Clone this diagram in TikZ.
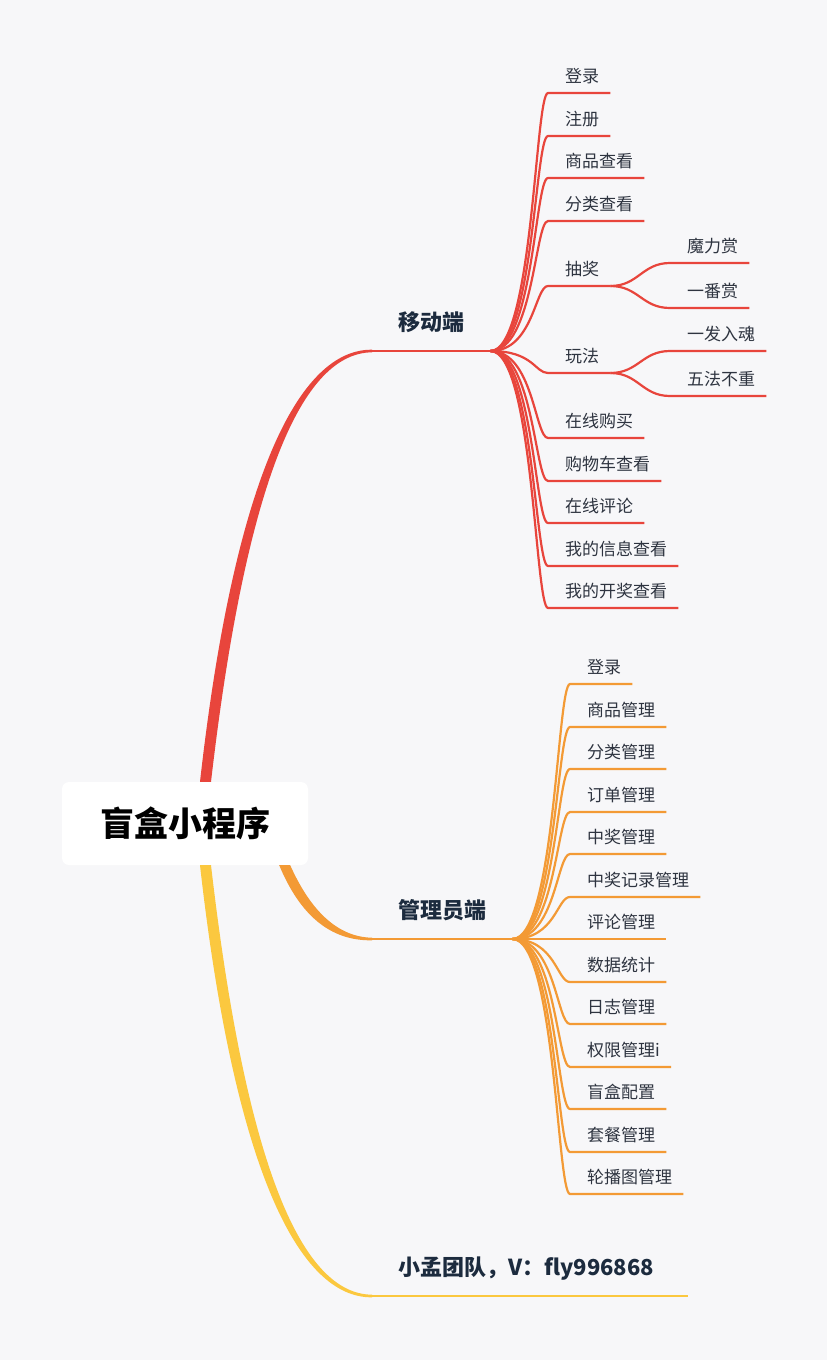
\documentclass[tikz,border=0pt]{standalone}
\usepackage{fontspec}
\setmainfont{Noto Sans CJK SC}
\usepackage{xcolor}
\usetikzlibrary{positioning, calc}

\definecolor{cBg}{HTML}{F7F7F9}
\definecolor{cRed}{HTML}{E8453C}
\definecolor{cOrange}{HTML}{F39A35}
\definecolor{cYellow}{HTML}{FBC83F}
\definecolor{cNavy}{HTML}{1C2B3E}
\definecolor{cText}{HTML}{2E3440}

\begin{document}
\begin{tikzpicture}[
  x=1pt, y=-1pt,
  root/.style={fill=white, rounded corners=7pt, minimum width=246pt,
    minimum height=83pt, inner sep=0pt, text=black,
    font=\fontsize{34}{40}\selectfont\bfseries},
  branch/.style={anchor=south west, inner xsep=26pt, inner ysep=20.6pt,
    text depth=0pt, text=cNavy, font=\fontsize{22}{26}\selectfont\bfseries},
  leaf/.style={anchor=south west, inner xsep=11pt, inner ysep=10.5pt,
    text depth=0pt, text=cText, font=\fontsize{17}{20}\selectfont,
    execute at begin node={\hspace*{6pt}}},
  rline/.style={cRed, line width=2.2pt},
  oline/.style={cOrange, line width=2.2pt},
]
  % background
  \fill[cBg] (0,0) rectangle (827,1360);

  % root and main branches
  \node[root] (root) at (185,823.5) {盲盒小程序};
  \node[branch] (mob) at (372,351) {移动端};
  \node[branch] (adm) at (372,939) {管理员端};
  \node[branch] (team) at (372,1296) {小孟团队，V：fly996868};

  \fill[cRed] ([xshift=15]root.north) .. controls (234,480) and (298,349) ..
    ([yshift=1.3]mob.south west) -- ([yshift=-1.3]mob.south west)
    .. controls (302,353) and (246,480) .. ([xshift=26]root.north) -- cycle;
  \fill[cOrange] ([xshift=-29]root.south east) .. controls (300,915) and (330,941) ..
    ([yshift=-1.3]adm.south west) -- ([yshift=1.3]adm.south west)
    .. controls (334,937) and (308,905) .. ([xshift=-18]root.south east) -- cycle;
  \fill[cYellow] ([xshift=15]root.south) .. controls (234,1167) and (298,1298) ..
    ([yshift=-1.3]team.south west) -- ([yshift=1.3]team.south west)
    .. controls (302,1294) and (246,1167) .. ([xshift=26]root.south) -- cycle;

  \draw[rline, line width=2.6pt] (mob.south west) -- (mob.south east);
  \draw[oline, line width=2.6pt] (adm.south west) -- (adm.south east);
  \draw[cYellow, line width=2.6pt] (team.south west) -- ([xshift=8]team.south east);

  % mobile side
  \node[leaf] (m1) at (548,93) {登录};
  \node[leaf] (m2) at (548,136) {注册};
  \node[leaf] (m3) at (548,178) {商品查看};
  \node[leaf] (m4) at (548,221) {分类查看};
  \node[leaf] (m5) at (548,286) {抽奖};
  \node[leaf] (m6) at (548,373) {玩法};
  \node[leaf] (m7) at (548,438) {在线购买};
  \node[leaf] (m8) at (548,481) {购物车查看};
  \node[leaf] (m9) at (548,523) {在线评论};
  \node[leaf] (m10) at (548,566) {我的信息查看};
  \node[leaf] (m11) at (548,608) {我的开奖查看};

  \node[leaf] (m5a) at (670,263) {魔力赏};
  \node[leaf] (m5b) at (670,308) {一番赏};
  \node[leaf] (m6a) at (670,351) {一发入魂};
  \node[leaf] (m6b) at (670,396) {五法不重};

  \foreach \n in {m1,m2,m3,m4,m5,m6,m7,m8,m9,m10,m11}
    \draw[rline] (mob.south east) .. controls +(43,0) and +(-13,0) ..
      (\n.south west) -- (\n.south east);
  \foreach \p/\n in {m5/m5a, m5/m5b, m6/m6a, m6/m6b}
    \draw[rline] (\p.south east) .. controls +(28,0) and +(-28,0) ..
      (\n.south west) -- (\n.south east);

  % admin side
  \node[leaf] (a1) at (570,684) {登录};
  \node[leaf] (a2) at (570,727) {商品管理};
  \node[leaf] (a3) at (570,769) {分类管理};
  \node[leaf] (a4) at (570,812) {订单管理};
  \node[leaf] (a5) at (570,854) {中奖管理};
  \node[leaf] (a6) at (570,897) {中奖记录管理};
  \node[leaf] (a7) at (570,939) {评论管理};
  \node[leaf] (a8) at (570,982) {数据统计};
  \node[leaf] (a9) at (570,1024) {日志管理};
  \node[leaf] (a10) at (570,1067) {权限管理i};
  \node[leaf] (a11) at (570,1109) {盲盒配置};
  \node[leaf] (a12) at (570,1152) {套餐管理};
  \node[leaf] (a13) at (570,1194) {轮播图管理};

  \foreach \n in {a1,a2,a3,a4,a5,a6,a7,a8,a9,a10,a11,a12,a13}
    \draw[oline] (adm.south east) .. controls +(43,0) and +(-13,0) ..
      (\n.south west) -- (\n.south east);
\end{tikzpicture}
\end{document}
